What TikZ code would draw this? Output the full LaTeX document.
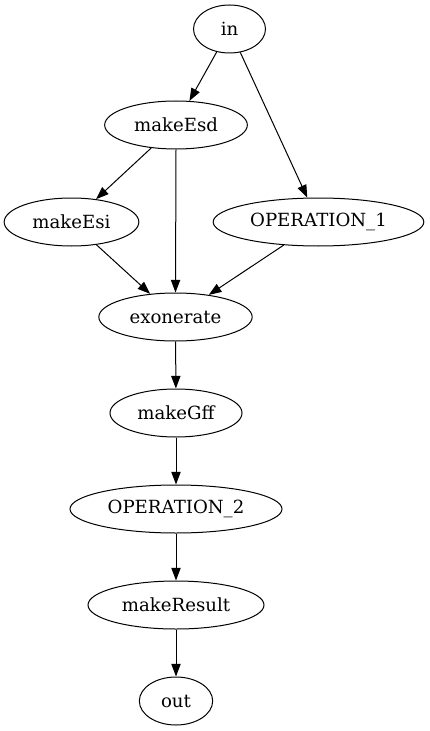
\documentclass[tikz,border=0pt]{standalone}
\usepackage{fontspec}
\setmainfont{DejaVu Serif}
\usetikzlibrary{shapes.geometric,arrows.meta}
\begin{document}
\begin{tikzpicture}[x=0.75pt,y=-0.75pt,
  nd/.style={draw,ellipse,inner sep=0pt,minimum height=36pt,line width=0.75pt,font=\fontsize{13.6pt}{16pt}\selectfont},
  ed/.style={line width=0.75pt,-{Triangle[length=9.5pt,width=7pt]}}]
\useasboundingbox (0,0) rectangle (429,731);
\node[nd,minimum width=54pt] (in) at (229.5,29) {in};
\node[nd,minimum width=107pt] (esd) at (176,125) {makeEsd};
\node[nd,minimum width=101pt] (esi) at (71.5,222) {makeEsi};
\node[nd,minimum width=158pt] (op1) at (318.5,222) {OPERATION\_1};
\node[nd,minimum width=115pt] (exo) at (175.5,317) {exonerate};
\node[nd,minimum width=99pt] (gff) at (176,413) {makeGff};
\node[nd,minimum width=159pt] (op2) at (176,509) {OPERATION\_2};
\node[nd,minimum width=132pt] (res) at (176,605) {makeResult};
\node[nd,minimum width=55pt] (out) at (176,701) {out};
\draw[ed] (in) -- (esd);
\draw[ed] (in) -- (op1);
\draw[ed] (esd) -- (esi);
\draw[ed] (esd.south) -- (exo.north);
\draw[ed] (esi) -- (exo);
\draw[ed] (op1) -- (exo);
\draw[ed] (exo) -- (gff);
\draw[ed] (gff) -- (op2);
\draw[ed] (op2) -- (res);
\draw[ed] (res) -- (out);
\end{tikzpicture}
\end{document}
